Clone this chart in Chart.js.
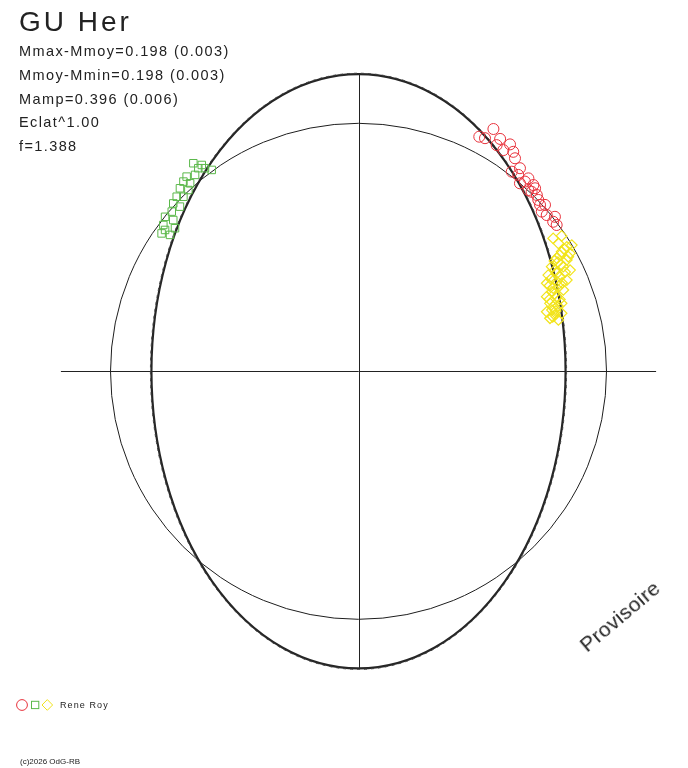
<!DOCTYPE html>
<html><head><meta charset="utf-8">
<script src="https://cdn.jsdelivr.net/npm/chart.js@4"></script>
<style>
html,body{margin:0;padding:0;background:#fff;}
#wrap{position:relative;width:688px;height:768px;overflow:hidden;background:#fff;}
#c{position:absolute;left:0;top:0;}
.t{position:absolute;font-family:"Liberation Sans",Arial,sans-serif;color:#222;white-space:nowrap;}
</style></head><body>
<div id="wrap">
<canvas id="c" width="688" height="768" style="width:688px;height:768px;"></canvas>
<div class="t" id="title" style="left:19px;top:8px;font-size:28px;line-height:28px;letter-spacing:3px;"></div>
<div class="t" id="stats" style="left:19px;top:40px;font-size:14.5px;line-height:23.8px;letter-spacing:1.4px;"></div>
<div class="t" id="prov" style="left:587px;top:635px;font-size:21px;line-height:21px;letter-spacing:0.4px;transform-origin:0 17.8px;transform:rotate(-40deg);"></div>
<svg style="position:absolute;left:14px;top:697px;" width="44" height="16">
  <circle cx="8" cy="8" r="5.4" fill="none" stroke="#e8323c" stroke-width="1"/>
  <rect x="17.5" y="4.3" width="7.3" height="7.3" fill="none" stroke="#5bb84a" stroke-width="1"/>
  <polygon points="33.3,2.6 38.6,8 33.3,13.3 28,8" fill="none" stroke="#f0e21c" stroke-width="1"/>
</svg>
<div class="t" id="author" style="left:60px;top:699px;font-size:9px;line-height:12px;letter-spacing:1.1px;"></div>
<div class="t" id="copy" style="left:20px;top:757px;font-size:8px;line-height:10px;"></div>
</div>
<script>
// ---- texts ----
const titleText = "GU Her";
const statsLines = ["Mmax-Mmoy=0.198 (0.003)", "Mmoy-Mmin=0.198 (0.003)", "Mamp=0.396 (0.006)", "Eclat^1.00", "f=1.388"];
const watermark = "Provisoire";
const authorText = "Rene Roy";
const copyText = "(c)2026 OdG-RB";

// ---- geometry (data units: reference circle radius = 1) ----
const axisLimit = [-1.2, 1.2];
const circleRadius = [1.0];
const ellipseAxes = [0.835, 1.198];

// ---- observed points [x, y] ----
const redPoints = [
 [0.544,0.977],[0.487,0.946],[0.510,0.940],[0.571,0.937],[0.557,0.912],[0.611,0.915],
 [0.584,0.892],[0.624,0.885],[0.631,0.859],[0.651,0.819],[0.618,0.805],[0.644,0.792],
 [0.685,0.778],[0.671,0.765],[0.651,0.758],[0.705,0.751],[0.712,0.738],[0.685,0.731],
 [0.698,0.724],[0.719,0.711],[0.725,0.691],[0.752,0.671],[0.732,0.671],[0.739,0.644],
 [0.759,0.630],[0.792,0.623],[0.785,0.603],[0.799,0.590]
];
const greenPoints = [
 [-0.666,0.839],[-0.632,0.832],[-0.592,0.812],[-0.619,0.819],[-0.646,0.819],[-0.693,0.785],
 [-0.659,0.792],[-0.706,0.765],[-0.679,0.758],[-0.720,0.738],[-0.686,0.731],[-0.733,0.704],
 [-0.706,0.704],[-0.747,0.677],[-0.720,0.664],[-0.753,0.644],[-0.780,0.623],[-0.747,0.610],
 [-0.787,0.590],[-0.740,0.577],[-0.794,0.556],[-0.760,0.550],[-0.780,0.570]
];
const yellowPoints = [
 [0.785,0.536],[0.819,0.546],[0.806,0.516],[0.840,0.502],[0.860,0.509],[0.819,0.482],
 [0.853,0.476],[0.799,0.456],[0.840,0.449],[0.804,0.440],[0.779,0.422],[0.826,0.422],
 [0.853,0.408],[0.792,0.408],[0.833,0.400],[0.765,0.388],[0.813,0.381],[0.840,0.368],
 [0.759,0.355],[0.821,0.356],[0.785,0.335],[0.826,0.328],[0.780,0.320],[0.759,0.301],
 [0.799,0.301],[0.772,0.274],[0.819,0.274],[0.804,0.263],[0.780,0.247],[0.759,0.240],
 [0.792,0.227],[0.819,0.234],[0.772,0.214],[0.806,0.207],
 [0.830,0.492],[0.812,0.468],[0.846,0.462],[0.790,0.445],[0.815,0.430],[0.800,0.395],
 [0.776,0.372],[0.800,0.362],[0.770,0.345],[0.808,0.342],[0.790,0.312],[0.770,0.290],
 [0.812,0.290],[0.785,0.260],[0.795,0.243],[0.783,0.220]
];

document.getElementById('title').textContent = titleText;
document.getElementById('stats').innerHTML = statsLines.map(s => s.replace(/&/g,'&amp;').replace(/</g,'&lt;')).join('<br>');
document.getElementById('prov').textContent = watermark;
document.getElementById('author').textContent = authorText;
document.getElementById('copy').textContent = copyText;

const toXY = arr => arr.map(p => ({x: p[0], y: p[1]}));

const geomPlugin = {
  id: 'geom',
  beforeDatasetsDraw(chart) {
    const {ctx, scales: {x, y}} = chart;
    const cx = x.getPixelForValue(0), cy = y.getPixelForValue(0);
    ctx.save();
    // axes
    ctx.strokeStyle = '#222';
    ctx.lineWidth = 1;
    const ax = Math.round(cx) + 0.5, ay = Math.round(cy) + 0.5;
    ctx.beginPath();
    ctx.moveTo(x.getPixelForValue(axisLimit[0]), ay);
    ctx.lineTo(x.getPixelForValue(axisLimit[1]), ay);
    ctx.moveTo(ax, y.getPixelForValue(axisLimit[1]));
    ctx.lineTo(ax, y.getPixelForValue(axisLimit[0]));
    ctx.stroke();
    // reference circle
    const rx = x.getPixelForValue(circleRadius[0]) - cx;
    const ry = cy - y.getPixelForValue(circleRadius[0]);
    ctx.beginPath();
    ctx.ellipse(cx, cy, rx, ry, 0, 0, Math.PI * 2);
    ctx.strokeStyle = '#1e1e1e';
    ctx.lineWidth = 1;
    ctx.stroke();
    // fitted ellipse
    const ea = x.getPixelForValue(ellipseAxes[0]) - cx;
    const eb = cy - y.getPixelForValue(ellipseAxes[1]);
    ctx.beginPath();
    ctx.ellipse(cx, cy, ea, eb, 0, 0, Math.PI * 2);
    ctx.strokeStyle = '#262626';
    ctx.lineWidth = 2.2;
    ctx.stroke();
    ctx.beginPath();
    ctx.ellipse(cx, cy, ea + 1, eb + 1, 0, 0, Math.PI * 2);
    ctx.setLineDash([3, 4]);
    ctx.lineWidth = 1;
    ctx.strokeStyle = '#444';
    ctx.stroke();
    ctx.restore();
  }
};

new Chart(document.getElementById('c'), {
  type: 'scatter',
  data: {
    datasets: [
      {label: 'V', data: toXY(yellowPoints), pointStyle: 'rectRot', pointRadius: 5.3,
       borderColor: '#f2e41c', backgroundColor: 'rgba(0,0,0,0)', borderWidth: 1.2},
      {label: 'B', data: toXY(greenPoints), pointStyle: 'rect', pointRadius: 5.3,
       borderColor: '#5bb84a', backgroundColor: 'rgba(0,0,0,0)', borderWidth: 1},
      {label: 'R', data: toXY(redPoints), pointStyle: 'circle', pointRadius: 5.5,
       borderColor: '#e8323c', backgroundColor: 'rgba(0,0,0,0)', borderWidth: 1}
    ]
  },
  options: {
    responsive: false,
    animation: false,
    devicePixelRatio: 1,
    layout: {padding: 0, autoPadding: false},
    plugins: {legend: {display: false}, tooltip: {enabled: false}, title: {display: false}},
    scales: {
      x: {type: 'linear', min: -1.4456, max: 1.3286, display: false},
      y: {type: 'linear', min: -1.5996, max: 1.4972, display: false}
    },
    events: []
  },
  plugins: [geomPlugin]
});
</script>
</body></html>
